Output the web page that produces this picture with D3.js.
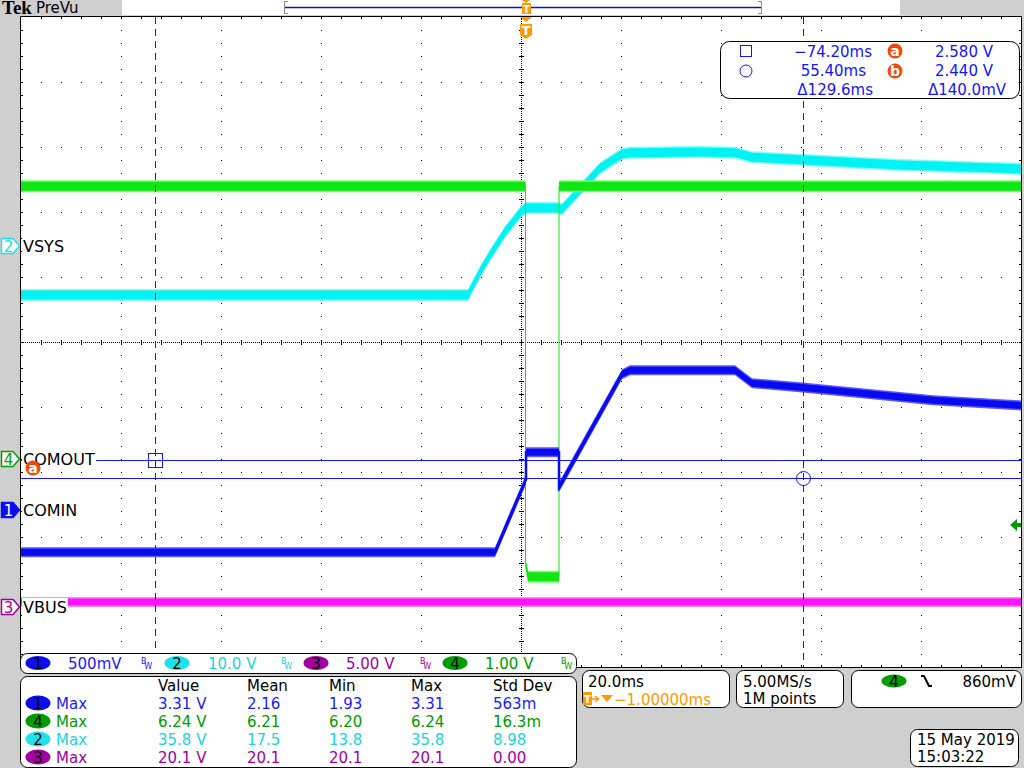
<!DOCTYPE html>
<html><head><meta charset="utf-8">
<script src="https://cdn.jsdelivr.net/npm/d3@7"></script>
<style>
body{margin:0;background:#cfcfcf;overflow:hidden}
svg{display:block}
text{font-family:"DejaVu Sans",sans-serif;font-size:15px}
</style>
</head><body><svg id="c" width="1024" height="768"></svg>
<script>
// ---------------- data (time in ms relative to trigger, volts) ----------------
const ch1Time  = [-101, -6.2, 0, 0, 6.6, 6.6, 19.2, 20.8, 41.8, 45.2, 54.8, 68.2, 81.4, 99];
const ch1Volts = [1.87, 1.87, 2.43, 2.64, 2.64, 2.37, 3.24, 3.27, 3.27, 3.17, 3.14, 3.09, 3.04, 3.00];
const ch2Time  = [-101, -11.6, -9.2, -7.2, -4.2, -1, 0, 6.4, 7.2, 10.8, 14.8, 19.2, 20.8, 34.8, 41.8, 45.2, 54.8, 74.8, 99];
const ch2Volts = [13.8, 13.8, 17.3, 19.9, 23.5, 26.6, 27.2, 27.2, 27.0, 30.0, 33.3, 35.5, 35.7, 35.8, 35.7, 35.0, 34.6, 33.8, 33.2];
const ch3Time  = [-101, 99];
const ch3Volts = [20.1, 20.1];
const ch4Time  = [-101, -0.1, -0.1, 0.4, 6.6, 6.6, 99];
const ch4Volts = [6.12, 6.12, 0.32, 0.11, 0.11, 6.12, 6.12];

const channelNames = ["COMIN", "VSYS", "VBUS", "COMOUT"];
const channelScales = ["500mV", "10.0 V", "5.00 V", "1.00 V"];
const measHeaders = ["Value", "Mean", "Min", "Max", "Std Dev"];
const measOrder = [1, 4, 2, 3];
const measRows = [
  ["3.31 V", "2.16", "1.93", "3.31", "563m"],
  ["6.24 V", "6.21", "6.20", "6.24", "16.3m"],
  ["35.8 V", "17.5", "13.8", "35.8", "8.98"],
  ["20.1 V", "20.1", "20.1", "20.1", "0.00"]
];
const cursorTimes = [-74.20, 55.40];
const cursorVolts = [2.580, 2.440];
const triggerLevel = 0.86; // ch4 volts
const triggerTime = 0;

// ---------------- setup ----------------
const svg = d3.select("#c");
const X0 = 21, X1 = 1021, Y0 = 17, Y1 = 667;
const x = d3.scaleLinear().domain([-101, 99]).range([X0, X1]);
const div = d3.scaleLinear().domain([-5, 5]).range([Y1, Y0]);

const col = {
  1: {core: "#0a0af0", edge: "#5a5aff", text: "#1a1aff", badge: "#0c0cf0"},
  2: {core: "#00f2f2", edge: "#8af8f8", text: "#1cd4dc", badge: "#20e0e8"},
  3: {core: "#ff10ff", edge: "#ff88ff", text: "#a000a0", badge: "#a000a0"},
  4: {core: "#12e612", edge: "#7cf57c", text: "#009a00", badge: "#009c00"}
};
const chCfg = {
  1: {t: ch1Time, v: ch1Volts, vdiv: 0.5, gnd: -6.975, half: 5, lw: 2.5},
  2: {t: ch2Time, v: ch2Volts, vdiv: 10, gnd: -0.657, half: 6, lw: 2.5},
  3: {t: ch3Time, v: ch3Volts, vdiv: 5, gnd: -8.02, half: 5, lw: 1},
  4: {t: ch4Time, v: ch4Volts, vdiv: 1, gnd: -3.723, half: 6, lw: 1}
};
const yOf = (c, v) => div(v / chCfg[c].vdiv + chCfg[c].gnd);

// background
svg.append("rect").attr("width", 1024).attr("height", 768).attr("fill", "#cfcfcf");
svg.append("rect").attr("x", X0 - 1).attr("y", Y0 - 1).attr("width", X1 - X0 + 1).attr("height", Y1 - Y0 + 1).attr("fill", "#fff");

// ---------------- graticule ----------------
const g = svg.append("g").attr("fill", "#000");
const dots = [];
for (let k = 1; k < 10; k++) {
  const gx = X0 + k * 100;
  if (k !== 5) for (let j = 1; j < 50; j++) dots.push([gx, Y0 + j * 13, 1, 1]);
  const gy = Y0 + k * 65;
  if (k !== 5) for (let j = 1; j < 50; j++) dots.push([X0 + j * 20, gy, 1, 1]);
}
const cx = X0 + 500, cy = Y0 + 325;
for (let yy = Y0; yy < Y1; yy += 2) dots.push([cx, yy, 1, 1]);
for (let xx = X0; xx < X1; xx += 2) dots.push([xx, cy, 1, 1]);
for (let j = 1; j < 50; j++) { dots.push([cx - 2, Y0 + j * 13, 5, 1]); dots.push([X0 + j * 20, cy - 2, 1, 5]); }
for (let j = 1; j < 50; j++) {
  dots.push([X0 + j * 20, Y0, 1, 2]); dots.push([X0 + j * 20, Y1 - 2, 1, 2]);
  dots.push([X0, Y0 + j * 13, 2, 1]); dots.push([X1 - 2, Y0 + j * 13, 2, 1]);
}
g.selectAll("rect").data(dots).join("rect")
  .attr("x", d => d[0]).attr("y", d => d[1]).attr("width", d => d[2]).attr("height", d => d[3]);
svg.append("path").attr("d", `M${X0 - 0.5},${Y1}V${Y0 - 0.5}H${X1 + 0.5}V${Y1 + 0.5}H${X0 - 0.5}`)
  .attr("fill", "none").attr("stroke", "#000").attr("stroke-width", 1);

// ---------------- traces ----------------
[3, 2, 4, 1].forEach(c => {
  const cf = chCfg[c];
  const pts = d3.zip(cf.t, cf.v);
  const area = h => d3.area().x(d => x(d[0])).y0(d => yOf(c, d[1]) + h).y1(d => yOf(c, d[1]) - h);
  const tg = svg.append("g");
  tg.append("path").attr("d", area(cf.half)(pts)).attr("fill", col[c].edge);
  tg.append("path").attr("d", area(cf.half - 1.5)(pts)).attr("fill", col[c].core);
  tg.append("path").attr("d", d3.line().x(d => x(d[0])).y(d => yOf(c, d[1]))(pts))
    .attr("fill", "none").attr("stroke", col[c].core).attr("stroke-width", cf.lw);
});

// ---------------- cursors ----------------
const cb = "#1414ff";
cursorVolts.forEach(v => {
  const yy = Math.round(yOf(1, v)) + 0.5;
  svg.append("line").attr("x1", X0).attr("x2", X1).attr("y1", yy).attr("y2", yy).attr("stroke", cb);
});
cursorTimes.forEach(t => {
  const xx = Math.round(x(t)) + 0.5;
  svg.append("line").attr("x1", xx).attr("x2", xx).attr("y1", Y0).attr("y2", Y1)
    .attr("stroke", cb).attr("stroke-dasharray", "7,5");
});
svg.append("rect").attr("x", Math.round(x(cursorTimes[0])) - 6.5).attr("y", Math.round(yOf(1, cursorVolts[0])) - 6.5)
  .attr("width", 14).attr("height", 14).attr("fill", "none").attr("stroke", cb);
svg.append("circle").attr("cx", Math.round(x(cursorTimes[1])) + 0.5).attr("cy", Math.round(yOf(1, cursorVolts[1])) + 0.5)
  .attr("r", 7).attr("fill", "none").attr("stroke", cb);

// ---------------- helpers ----------------
function txt(parent, s, xx, yy, opts = {}) {
  const t = parent.append("text").attr("x", xx).attr("y", yy).text(s)
    .attr("fill", opts.fill || "#000");
  if (opts.size) t.style("font-size", opts.size + "px");
  if (opts.anchor) t.attr("text-anchor", opts.anchor);
  if (opts.weight) t.attr("font-weight", opts.weight);
  if (opts.family) t.style("font-family", opts.family);
  return t;
}
function box(x0, y0, x1, y1, r = 7) {
  svg.append("rect").attr("x", x0 + 0.5).attr("y", y0 + 0.5).attr("width", x1 - x0).attr("height", y1 - y0)
    .attr("rx", r).attr("fill", "#fff").attr("stroke", "#000");
}
function badge(c, cx_, cy_, rx = 12, ry = 7) {
  svg.append("ellipse").attr("cx", cx_).attr("cy", cy_).attr("rx", rx).attr("ry", ry).attr("fill", col[c].badge);
  txt(svg, String(c), cx_, cy_ + 5.5, {anchor: "middle", size: 15});
}
function cursorBadge(letter, cx_, cy_) {
  svg.append("circle").attr("cx", cx_).attr("cy", cy_).attr("r", 7.5).attr("fill", "#f04a0a");
  txt(svg, letter, cx_, cy_ + 4.5, {anchor: "middle", size: 14, fill: "#fff", weight: "bold"});
}

// ---------------- left channel markers & labels ----------------
const markerY = {2: 246, 4: 459, 1: 510, 3: 607};
const labelOf = {1: channelNames[0], 2: channelNames[1], 3: channelNames[2], 4: channelNames[3]};
[2, 4, 1, 3].forEach(c => {
  const my = markerY[c];
  const filled = c === 1;
  svg.append("path").attr("d", `M1.5,${my - 7.5}H13L19.5,${my}L13,${my + 7.5}H1.5Z`)
    .attr("fill", filled ? col[c].badge : "#fff").attr("stroke", col[c].badge).attr("stroke-width", 1.5);
  txt(svg, String(c), 8.5, my + 5.5, {anchor: "middle", size: 15, fill: filled ? "#fff" : col[c].badge});
  const bg = svg.append("rect").attr("fill", "#fff");
  const t = txt(svg, labelOf[c], 23, my + 6, {size: 16});
  const bb = t.node().getBBox();
  bg.attr("x", bb.x - 1).attr("y", my - 9).attr("width", bb.width + 2).attr("height", 18);
});
cursorBadge("a", 33, 468);

// trigger level arrow (right side)
{
  const ty = Math.round(yOf(4, triggerLevel)) - 3;
  svg.append("path").attr("d", `M1010,${ty}L1017,${ty - 6}V${ty - 2}H1021V${ty + 2}H1017V${ty + 6}Z`).attr("fill", col[4].badge);
}

// ---------------- top bar ----------------
txt(svg, "Tek", 2, 14, {size: 19, weight: "bold", family: "'Liberation Serif',serif"});
txt(svg, "PreVu", 36, 13, {size: 15});
svg.append("rect").attr("x", 122).attr("y", 0).attr("width", 778).attr("height", 15).attr("fill", "#fff");
svg.append("path").attr("d", "M284.5,1V14M284.5,1.5H288M284.5,13.5H288M761.5,1V14M761.5,1.5H758M761.5,13.5H758")
  .attr("stroke", "#909090").attr("fill", "none");
svg.append("line").attr("x1", 285).attr("x2", 761).attr("y1", 7.5).attr("y2", 7.5).attr("stroke", "#1010d0").attr("stroke-width", 1.5);
const orange = "#ff9a00";
const tx = Math.round(x(triggerTime));
svg.append("path").attr("d", `M${tx - 4},0H${tx + 4}L${tx},3Z`).attr("fill", orange);
svg.append("rect").attr("x", tx - 4).attr("y", 3).attr("width", 9).attr("height", 11).attr("fill", orange);
txt(svg, "T", tx + 0.5, 13, {anchor: "middle", size: 10, fill: "#fff", weight: "bold"});
svg.append("path").attr("d", `M${tx - 6},17H${tx + 6}L${tx},22Z`).attr("fill", orange);
svg.append("path").attr("d", `M${tx - 6},24H${tx + 6}V35L${tx},39L${tx - 6},35Z`).attr("fill", orange);
txt(svg, "T", tx, 35, {anchor: "middle", size: 13, fill: "#fff", weight: "bold"});

// ---------------- cursor readout ----------------
box(720, 41, 1019, 98, 9);
svg.append("rect").attr("x", 740.5).attr("y", 45.5).attr("width", 11).attr("height", 11).attr("fill", "none").attr("stroke", cb);
svg.append("circle").attr("cx", 746).attr("cy", 71).attr("r", 6).attr("fill", "none").attr("stroke", cb);
const fmtT = d3.format(".2f");
txt(svg, "\u2212" + fmtT(Math.abs(cursorTimes[0])) + "ms", 872, 57, {fill: cb, anchor: "end"});
txt(svg, fmtT(cursorTimes[1]) + "ms", 866, 76, {fill: cb, anchor: "end"});
txt(svg, "\u0394" + (cursorTimes[1] - cursorTimes[0]).toFixed(1) + "ms", 873, 95, {fill: cb, anchor: "end"});
cursorBadge("a", 895, 51);
cursorBadge("b", 895, 71);
txt(svg, cursorVolts[0].toFixed(3) + " V", 993, 57, {fill: cb, anchor: "end"});
txt(svg, cursorVolts[1].toFixed(3) + " V", 993, 76, {fill: cb, anchor: "end"});
txt(svg, "\u0394" + ((cursorVolts[0] - cursorVolts[1]) * 1000).toFixed(1) + "mV", 1006, 95, {fill: cb, anchor: "end"});

// ---------------- channel readout bar ----------------
box(20, 653, 576, 673, 7);
const badgeX = {1: 38, 2: 177, 3: 316, 4: 455};
const scaleX = {1: 68, 2: 208, 3: 346, 4: 485};
const bwX = {1: 141, 2: 281, 3: 420, 4: 561};
[1, 2, 3, 4].forEach((c, i) => {
  badge(c, badgeX[c], 663, 12.5, 7);
  txt(svg, channelScales[i], scaleX[c], 669, {fill: col[c].text});
  const bw = svg.append("text").attr("x", bwX[c]).attr("y", 664).attr("fill", col[c].text).style("font-size", "8px");
  bw.append("tspan").text("B");
  bw.append("tspan").attr("dx", -2).attr("dy", 5).text("W");
});

// ---------------- measurements ----------------
box(20, 676, 576, 767, 7);
const colX = [158, 247, 329, 411, 493];
measHeaders.forEach((h, i) => txt(svg, h, colX[i], 691));
measOrder.forEach((c, r) => {
  const yy = 703 + r * 18;
  badge(c, 38, yy, 12.5, 7.5);
  txt(svg, "Max", 56, yy + 6, {fill: col[c].text});
  measRows[r].forEach((v, i) => txt(svg, v, colX[i], yy + 6, {fill: col[c].text}));
});

// ---------------- timebase / acquisition / trigger / date ----------------
box(582, 670, 729, 707, 7);
txt(svg, "20.0ms", 588, 687);
svg.append("rect").attr("x", 583).attr("y", 692).attr("width", 9).attr("height", 13).attr("fill", orange);
txt(svg, "T", 587.5, 703, {anchor: "middle", size: 11, fill: "#fff", weight: "bold"});
svg.append("path").attr("d", "M592,699H598M595,696L598.5,699L595,702").attr("fill", "none").attr("stroke", orange).attr("stroke-width", 1.5);
svg.append("path").attr("d", "M601,695H613L607,702Z").attr("fill", orange);
txt(svg, "\u22121.00000ms", 614, 705, {fill: orange});

box(736, 670, 843, 707, 7);
txt(svg, "5.00MS/s", 743, 687);
txt(svg, "1M points", 743, 704);

box(851, 670, 1021, 707, 7);
badge(4, 894, 681, 12.5, 6.5);
svg.append("path").attr("d", "M921,676H924L929,686H932").attr("fill", "none").attr("stroke", "#000").attr("stroke-width", 2);
txt(svg, (triggerLevel * 1000).toFixed(0) + "mV", 1016, 687, {anchor: "end"});

box(910, 729, 1018, 766, 7);
txt(svg, "15 May 2019", 917, 745);
txt(svg, "15:03:22", 917, 762);
</script></body></html>
